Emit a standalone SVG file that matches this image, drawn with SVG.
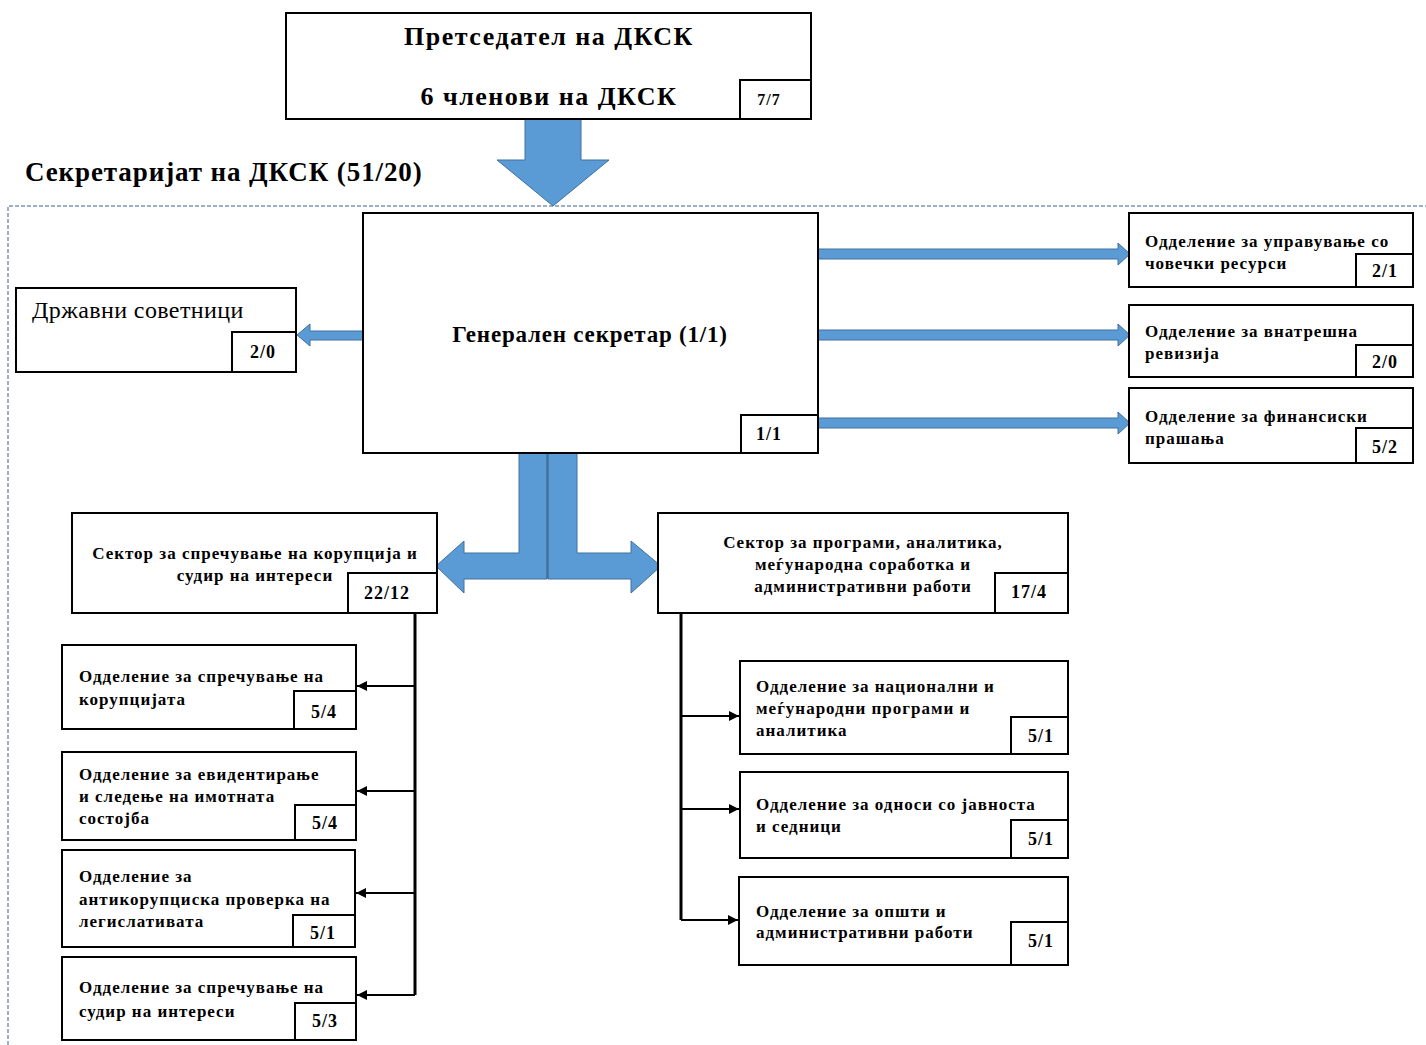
<svg xmlns="http://www.w3.org/2000/svg" width="1426" height="1045" viewBox="0 0 1426 1045">
<defs>
<style>
.box{fill:#fff;stroke:#000;stroke-width:2}
.cnt{fill:#fff;stroke:#000;stroke-width:2}
.t{font-family:"Liberation Serif",serif;font-weight:bold;fill:#000}
.s16{font-size:17px;letter-spacing:1px}
.cn{font-size:18px;letter-spacing:1px;text-anchor:middle}
.blue{fill:#5B9BD5;stroke:#41719C;stroke-width:1}
.ln{fill:none;stroke:#000;stroke-width:3}
.br{fill:none;stroke:#000;stroke-width:2}
</style>
<marker id="ah" viewBox="0 0 10 10" refX="10" refY="5" markerWidth="5" markerHeight="5" markerUnits="strokeWidth" orient="auto">
<path d="M0,0 L10,5 L0,10 z" fill="#000"/>
</marker>
</defs>
<rect width="1426" height="1045" fill="#fff"/>
<path d="M8,1045 L8,206 L1426,206" fill="none" stroke="#9DB0C8" stroke-width="2" stroke-dasharray="4,2"/>
<text class="t" x="25" y="181" font-size="27" letter-spacing="0.9">Секретаријат на ДКСК (51/20)</text>
<g id="connectors">
<path class="blue" d="M525,119 L581,119 L581,160 L609,160 L553,206 L497,160 L525,160 Z"/>
<path class="blue" d="M363,331 L310,331 L310,324 L297,335 L310,346 L310,340 L363,340 Z"/>
<path class="blue" d="M818,249 L1118,249 L1118,243 L1130,254 L1118,265 L1118,259 L818,259 Z"/>
<path class="blue" d="M818,330 L1118,330 L1118,324 L1130,335 L1118,346 L1118,340 L818,340 Z"/>
<path class="blue" d="M818,418 L1118,418 L1118,412 L1130,423 L1118,434 L1118,428 L818,428 Z"/>
<path class="blue" d="M519,453 L547,453 L547,579 L464,579 L464,593 L436,566 L464,541 L464,553 L519,553 Z"/>
<path class="blue" d="M548,453 L577,453 L577,553 L631,553 L631,541 L661,566 L631,593 L631,579 L548,579 Z"/>
<line x1="547.5" y1="453" x2="547.5" y2="579" stroke="#41719C" stroke-width="2"/>
<path class="ln" d="M415,613 L415,995"/>
<path class="br" d="M415,686 L357,686" marker-end="url(#ah)"/>
<path class="br" d="M415,791 L357,791" marker-end="url(#ah)"/>
<path class="br" d="M415,893 L356,893" marker-end="url(#ah)"/>
<path class="br" d="M415,995 L357,995" marker-end="url(#ah)"/>
<path class="ln" d="M681,613 L681,920"/>
<path class="br" d="M681,716 L739,716" marker-end="url(#ah)"/>
<path class="br" d="M681,809 L739,809" marker-end="url(#ah)"/>
<path class="br" d="M681,920 L738,920" marker-end="url(#ah)"/>
</g>
<g id="n-pres">
<rect class="box" x="286" y="13" width="525" height="106"/>
<rect class="cnt" x="740" y="80" width="71" height="39"/>
<text class="t" x="549" y="45" font-size="26" letter-spacing="1.5" text-anchor="middle">Претседател на ДКСК</text>
<text class="t" x="549" y="105" font-size="26" letter-spacing="1.5" text-anchor="middle">6 членови на ДКСК</text>
<text class="t" x="769" y="105" font-size="16" letter-spacing="1" text-anchor="middle">7/7</text>
</g>
<g id="n-gensec">
<rect class="box" x="363" y="213" width="455" height="240"/>
<rect class="cnt" x="741" y="415" width="77" height="38"/>
<text class="t" x="590" y="342" font-size="23" letter-spacing="0.8" text-anchor="middle">Генерален секретар (1/1)</text>
<text class="t cn" x="769" y="440">1/1</text>
</g>
<g id="n-drz">
<rect class="box" x="16" y="288" width="280" height="84"/>
<rect class="cnt" x="232" y="332" width="64" height="40"/>
<text x="32" y="318" font-family="Liberation Serif, serif" font-size="24" letter-spacing="0.4">Државни советници</text>
<text class="t cn" x="263" y="358">2/0</text>
</g>
<g id="n-hr">
<rect class="box" x="1129" y="213" width="284" height="74"/>
<rect class="cnt" x="1356" y="254" width="57" height="33"/>
<text class="t s16" x="1145" y="247">Одделение за управување со</text>
<text class="t s16" x="1145" y="269">човечки ресурси</text>
<text class="t cn" x="1385" y="277">2/1</text>
</g>
<g id="n-audit">
<rect class="box" x="1129" y="305" width="284" height="72"/>
<rect class="cnt" x="1356" y="345" width="57" height="32"/>
<text class="t s16" x="1145" y="337">Одделение за внатрешна</text>
<text class="t s16" x="1145" y="359">ревизија</text>
<text class="t cn" x="1385" y="368">2/0</text>
</g>
<g id="n-fin">
<rect class="box" x="1129" y="388" width="284" height="75"/>
<rect class="cnt" x="1356" y="428" width="57" height="35"/>
<text class="t s16" x="1145" y="422">Одделение за финансиски</text>
<text class="t s16" x="1145" y="444">прашања</text>
<text class="t cn" x="1385" y="453">5/2</text>
</g>
<g id="n-sec1">
<rect class="box" x="72" y="513" width="365" height="100"/>
<rect class="cnt" x="348" y="573" width="89" height="40"/>
<text class="t s16" x="255" y="559" text-anchor="middle">Сектор за спречување на корупција и</text>
<text class="t s16" x="255" y="581" text-anchor="middle">судир на интереси</text>
<text class="t cn" x="387" y="599">22/12</text>
</g>
<g id="n-sec2">
<rect class="box" x="658" y="513" width="410" height="100"/>
<rect class="cnt" x="995" y="573" width="73" height="40"/>
<text class="t s16" x="863" y="548" text-anchor="middle">Сектор за програми, аналитика,</text>
<text class="t s16" x="863" y="570" text-anchor="middle">меѓународна соработка и</text>
<text class="t s16" x="863" y="592" text-anchor="middle">административни работи</text>
<text class="t cn" x="1029" y="598">17/4</text>
</g>
<g id="n-l1">
<rect class="box" x="62" y="645" width="294" height="84"/>
<rect class="cnt" x="294" y="691" width="62" height="38"/>
<text class="t s16" x="79" y="682">Одделение за спречување на</text>
<text class="t s16" x="79" y="705">корупцијата</text>
<text class="t cn" x="324" y="718">5/4</text>
</g>
<g id="n-l2">
<rect class="box" x="62" y="752" width="294" height="88"/>
<rect class="cnt" x="295" y="805" width="61" height="35"/>
<text class="t s16" x="79" y="780">Одделение за евидентирање</text>
<text class="t s16" x="79" y="802">и следење на имотната</text>
<text class="t s16" x="79" y="824">состојба</text>
<text class="t cn" x="325" y="829">5/4</text>
</g>
<g id="n-l3">
<rect class="box" x="62" y="850" width="293" height="97"/>
<rect class="cnt" x="293" y="915" width="62" height="32"/>
<text class="t s16" x="79" y="882">Одделение за</text>
<text class="t s16" x="79" y="905">антикорупциска проверка на</text>
<text class="t s16" x="79" y="927">легислативата</text>
<text class="t cn" x="323" y="939">5/1</text>
</g>
<g id="n-l4">
<rect class="box" x="62" y="957" width="294" height="83"/>
<rect class="cnt" x="295" y="1003" width="61" height="37"/>
<text class="t s16" x="79" y="993">Одделение за спречување на</text>
<text class="t s16" x="79" y="1017">судир на интереси</text>
<text class="t cn" x="325" y="1027">5/3</text>
</g>
<g id="n-r1">
<rect class="box" x="740" y="661" width="328" height="93"/>
<rect class="cnt" x="1011" y="717" width="57" height="37"/>
<text class="t s16" x="756" y="692">Одделение за национални и</text>
<text class="t s16" x="756" y="714">меѓународни програми и</text>
<text class="t s16" x="756" y="736">аналитика</text>
<text class="t cn" x="1041" y="742">5/1</text>
</g>
<g id="n-r2">
<rect class="box" x="740" y="772" width="328" height="86"/>
<rect class="cnt" x="1011" y="820" width="57" height="38"/>
<text class="t s16" x="756" y="810">Одделение за односи со јавноста</text>
<text class="t s16" x="756" y="832">и седници</text>
<text class="t cn" x="1041" y="845">5/1</text>
</g>
<g id="n-r3">
<rect class="box" x="739" y="877" width="329" height="88"/>
<rect class="cnt" x="1011" y="922" width="57" height="43"/>
<text class="t s16" x="756" y="917">Одделение за општи и</text>
<text class="t s16" x="756" y="938">административни работи</text>
<text class="t cn" x="1041" y="947">5/1</text>
</g>
</svg>
